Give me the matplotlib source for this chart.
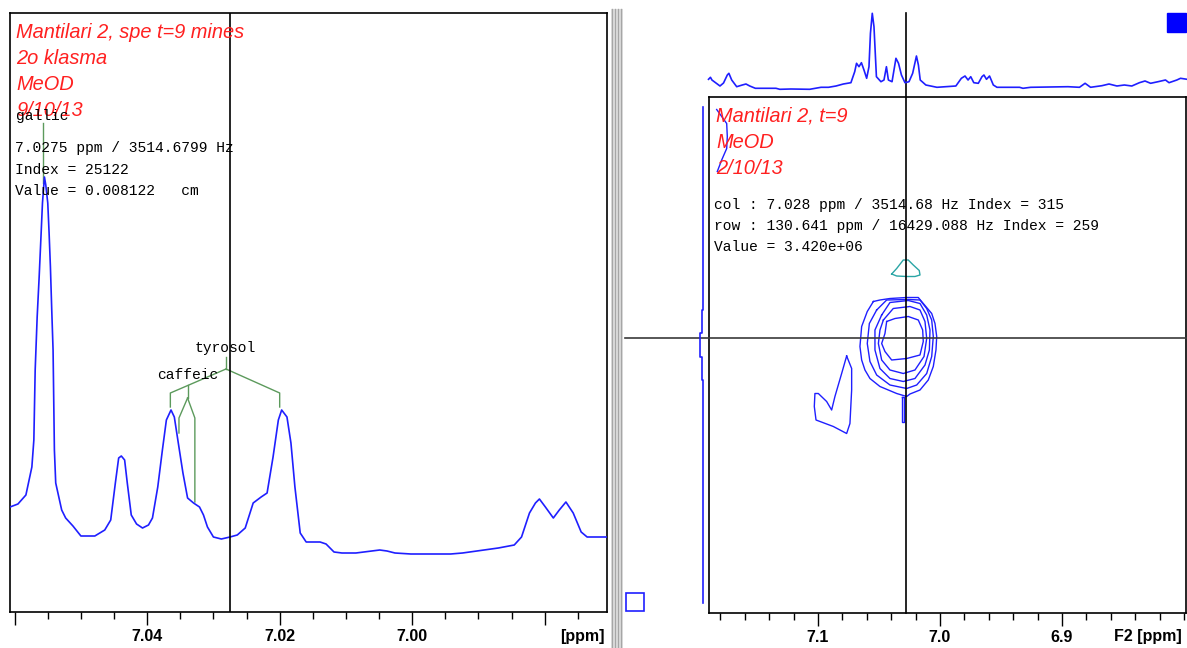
import matplotlib
matplotlib.use("Agg")
import matplotlib.pyplot as plt
from matplotlib.patches import Rectangle
from matplotlib.ticker import FixedLocator, MultipleLocator

W, H = 1187, 648

# ---------------- 1H spectrum (left panel) ----------------
h1_ppm = [7.0607, 7.0595, 7.0583, 7.0574, 7.0571, 7.0569, 7.0566, 7.0563, 7.0560,
          7.0558, 7.0555, 7.0553, 7.0550, 7.0548, 7.0546, 7.0544, 7.0542, 7.0540,
          7.0538, 7.0529, 7.0523, 7.0512, 7.0500, 7.0479, 7.0464, 7.0455, 7.0448,
          7.0443, 7.0439, 7.0434, 7.0430, 7.0424, 7.0416, 7.0407, 7.0398, 7.0392,
          7.0384, 7.0377, 7.0371, 7.0364, 7.0359, 7.0353, 7.0346, 7.0339, 7.0330,
          7.0321, 7.0315, 7.0309, 7.0300, 7.0288, 7.0275, 7.0264, 7.0252, 7.0240,
          7.0228, 7.0219, 7.0210, 7.0202, 7.0197, 7.0189, 7.0183, 7.0177, 7.0169,
          7.0160, 7.0139, 7.0130, 7.0118, 7.0106, 7.0085, 7.0049, 7.0038, 7.0026,
          7.0002, 6.9942, 6.9924, 6.9870, 6.9846, 6.9835, 6.9823, 6.9814, 6.9808,
          6.9799, 6.9787, 6.9778, 6.9768, 6.9757, 6.9745, 6.9736, 6.9706]
h1_int = [105, 108, 117, 145, 172, 242, 295, 335, 379,
          409, 435, 427, 409, 379, 345, 302, 262, 162,
          129, 102, 94, 86, 76, 76, 82, 92, 129,
          154, 156, 152, 129, 97, 88, 84, 87, 94,
          125, 162, 192, 202, 195, 169, 139, 114, 109,
          105, 97, 85, 75, 73, 75, 77, 84, 109,
          115, 119, 155, 192, 202, 195, 169, 125, 79,
          70, 70, 68, 60, 59, 59, 62, 61, 59,
          58, 58, 59, 64, 67, 75, 99, 109, 113,
          105, 94, 102, 110, 99, 80, 75, 75]

h1_ticks_major = [7.06, 7.04, 7.02, 7.00, 6.98]
h1_tick_labels = ["", "7.04", "7.02", "7.00", ""]

gallic_peak = 7.0557
caffeic_peaks = [7.0352, 7.0328]
tyrosol_peaks = [7.0365, 7.0200]

# ---------------- HSQC (right panel) ----------------
# F2 projection (top trace)
proj_f2_ppm = [7.1897, 7.1881, 7.1869, 7.1836, 7.1803, 7.1774, 7.1743, 7.1730, 7.1707,
               7.1666, 7.1620, 7.1590, 7.1559, 7.1513, 7.1344, 7.1313, 7.1221, 7.1068,
               7.0975, 7.0914, 7.0852, 7.0792, 7.0730, 7.0699, 7.0684, 7.0664, 7.0644,
               7.0623, 7.0601, 7.0582, 7.0570, 7.0555, 7.0541, 7.0521, 7.0484, 7.0459,
               7.0439, 7.0423, 7.0393, 7.0361, 7.0340, 7.0316, 7.0287, 7.0254, 7.0224,
               7.0193, 7.0177, 7.0162, 7.0116, 7.0025, 6.9870, 6.9825, 6.9795, 6.9770,
               6.9748, 6.9723, 6.9686, 6.9656, 6.9640, 6.9619, 6.9594, 6.9563, 6.9533,
               6.9348, 6.9320, 6.9257, 6.8951, 6.8857, 6.8811, 6.8766, 6.8673, 6.8615,
               6.8550, 6.8489, 6.8428, 6.8366, 6.8320, 6.8274, 6.8213, 6.8152, 6.8123,
               6.8059, 6.8029, 6.7975]
proj_f2_int = [15.7, 17.7, 15, 12, 9, 12, 20, 21.7, 15,
               8.3, 10, 11, 9, 6.7, 6.7, 5.7, 6, 5.7,
               7.7, 7.7, 9, 11, 12.3, 23.3, 31.7, 28.3, 32.3,
               25, 16.7, 28.3, 61.7, 81.7, 68.3, 18.3, 13.3, 15,
               28.3, 15, 13.3, 36.7, 31.7, 20, 12.3, 13.3, 21.7,
               39, 30, 15, 10, 7.7, 9, 16.7, 19, 15,
               18.3, 12.3, 11.7, 18.3, 20, 15.7, 19, 10, 7.7,
               7.7, 6.7, 7.7, 8.3, 7.7, 11.7, 7.7, 9.3, 11,
               9, 10, 9, 12.3, 14, 11.7, 13.3, 15, 12.3,
               15, 16.7, 15.7]

# F1 projection (left trace)
proj_f1_ppm = [126.02, 130.08, 130.08, 130.54, 130.54, 131.02, 131.02, 131.48, 131.48, 135.94]
proj_f1_int = [0, 0, 1, 1, 2.7, 2.7, 1, 1, 0, 0]

f2_ticks_major = [7.1, 7.0, 6.9]

cursor_f2 = 7.028
cursor_f1 = 130.641

# Contour levels of the cross peak (F2 ppm, F1 ppm)
level1_f2 = [7.0546, 7.0492, 7.0410, 7.0273, 7.0178, 7.0137, 7.0068, 7.0041, 7.0027, 7.0033,
             7.0055, 7.0096, 7.0164, 7.0246, 7.0273, 7.0355, 7.0492, 7.0574, 7.0615, 7.0642,
             7.0656, 7.0642, 7.0596, 7.0546]
level1_f1 = [129.91, 129.88, 129.85, 129.83, 129.83, 129.95, 130.15, 130.35, 130.61, 130.88,
             131.21, 131.48, 131.68, 131.76, 131.81, 131.75, 131.61, 131.45, 131.28, 131.08,
             130.81, 130.41, 130.11, 129.91]
level2_f2 = [7.0519, 7.0437, 7.0260, 7.0164, 7.0109, 7.0068, 7.0055, 7.0068, 7.0109, 7.0191,
             7.0273, 7.0410, 7.0519, 7.0574, 7.0596, 7.0579, 7.0519]
level2_f1 = [130.08, 129.88, 129.87, 129.88, 130.05, 130.28, 130.61, 131.01, 131.35, 131.58,
             131.65, 131.58, 131.38, 131.11, 130.75, 130.35, 130.08]
level3_f2 = [7.0478, 7.0410, 7.0260, 7.0164, 7.0109, 7.0082, 7.0087, 7.0123, 7.0205, 7.0301,
             7.0410, 7.0492, 7.0533, 7.0533, 7.0478]
level3_f1 = [130.18, 129.93, 129.89, 129.95, 130.18, 130.48, 130.88, 131.18, 131.45, 131.51,
             131.45, 131.25, 130.88, 130.48, 130.18]
level4_f2 = [7.0464, 7.0383, 7.0246, 7.0164, 7.0123, 7.0109, 7.0131, 7.0205, 7.0301, 7.0410,
             7.0478, 7.0505, 7.0492, 7.0464]
level4_f1 = [130.28, 130.05, 130.01, 130.08, 130.31, 130.65, 131.01, 131.28, 131.35, 131.28,
             131.08, 130.75, 130.48, 130.28]
level5_f2 = [7.0437, 7.0369, 7.0260, 7.0178, 7.0142, 7.0137, 7.0164, 7.0273, 7.0396, 7.0451,
             7.0478, 7.0451, 7.0437]
level5_f1 = [130.31, 130.25, 130.21, 130.28, 130.48, 130.71, 130.98, 131.05, 131.08, 130.91,
             130.75, 130.55, 130.31]
tail_f2 = [7.0314, 7.0314, 7.0295, 7.0295, 7.0314]
tail_f1 = [131.81, 132.31, 132.31, 131.81, 131.81]
side_f2 = [7.0765, 7.0724, 7.0724, 7.0738, 7.0765, 7.0874, 7.1016, 7.1030, 7.1025, 7.0997,
           7.0929, 7.0888, 7.0861, 7.0806, 7.0765]
side_f1 = [131.00, 131.25, 131.68, 132.35, 132.55, 132.41, 132.28, 132.01, 131.75, 131.75,
           131.91, 132.08, 131.81, 131.35, 131.00]
edge_f2 = [7.1830, 7.1789, 7.1748, 7.1743, 7.1748, 7.1789, 7.1825]
edge_f1 = [126.07, 126.21, 126.35, 126.61, 126.85, 127.08, 127.31]
neg_f2 = [7.0396, 7.0355, 7.0301, 7.0260, 7.0219, 7.0170, 7.0164, 7.0205, 7.0273, 7.0355, 7.0396]
neg_f1 = [129.36, 129.25, 129.08, 129.08, 129.18, 129.29, 129.38, 129.41, 129.41, 129.40, 129.36]

# ---------------- drawing ----------------
BLUE = "#1f1fff"
RED = "#ff2020"
GREEN = "#5c9a5c"
SANS = ["Liberation Sans", "DejaVu Sans"]
MONO = ["Liberation Mono", "DejaVu Sans Mono"]
RED_SIZE = 14.4

fig = plt.figure(figsize=(W / 100, H / 100), dpi=100)
fig.patch.set_facecolor("white")


def rect(x0, y0, x1, y1):
    return [x0 / W, 1 - y1 / H, (x1 - x0) / W, (y1 - y0) / H]


def fx(x):
    return x / W


def fy(y):
    return 1 - y / H


def style_axis(ax):
    for s in ax.spines.values():
        s.set_linewidth(1.2)
        s.set_color("black")
    ax.tick_params(axis="x", which="major", length=9, width=1, pad=3,
                   labelsize=11.5, direction="out")
    ax.tick_params(axis="x", which="minor", length=5, width=1, direction="out")
    ax.tick_params(axis="y", left=False, labelleft=False)
    for lbl in ax.get_xticklabels():
        lbl.set_fontfamily(SANS)
        lbl.set_fontweight("bold")


# Left panel: 1D proton spectrum
ax1 = fig.add_axes(rect(10, 13, 607, 612))
ax1.plot(h1_ppm, h1_int, color=BLUE, lw=1.2, zorder=3)
ax1.set_xlim(7.0607, 6.9706)
ax1.set_ylim(0, 599)
ax1.xaxis.set_major_locator(FixedLocator(h1_ticks_major))
ax1.set_xticklabels(h1_tick_labels)
ax1.xaxis.set_minor_locator(MultipleLocator(0.005))
style_axis(ax1)
ax1.axvline(7.0275, color="black", lw=1.2, zorder=4)

# peak assignment trees
ax1.plot([7.0281, 7.0281], [255, 243], color=GREEN, lw=1, zorder=2)
ax1.plot([7.0281, tyrosol_peaks[0], tyrosol_peaks[0]], [243, 219, 205], color=GREEN, lw=1, zorder=2)
ax1.plot([7.0281, tyrosol_peaks[1], tyrosol_peaks[1]], [243, 219, 205], color=GREEN, lw=1, zorder=2)
ax1.text(7.0282, 264, "tyrosol", family=MONO, fontsize=10.5, ha="center", va="center", zorder=6)
ax1.plot([7.0339, 7.0339], [227, 214], color=GREEN, lw=1, zorder=2)
ax1.plot([7.0339, caffeic_peaks[0], caffeic_peaks[0]], [214, 194, 179], color=GREEN, lw=1, zorder=2)
ax1.plot([7.0339, caffeic_peaks[1], caffeic_peaks[1]], [214, 194, 110], color=GREEN, lw=1, zorder=2)
ax1.text(7.0339, 237, "caffeic", family=MONO, fontsize=10.5, ha="center", va="center", zorder=6)
ax1.plot([gallic_peak, gallic_peak], [489, 429], color=GREEN, lw=1, zorder=2)
ax1.text(7.0558, 496, "gallic", family=MONO, fontsize=10.5, ha="center", va="center", zorder=7)

for y, s in zip([32, 58, 84, 110], ["Mantilari 2, spe t=9 mines", "2o klasma", "MeOD", "9/10/13"]):
    ax1.text(fx(16), fy(y), s, transform=fig.transFigure, family=SANS, style="italic",
             fontsize=RED_SIZE, color=RED, va="center", ha="left", zorder=5)
for y, s in zip([148, 170, 191], ["7.0275 ppm / 3514.6799 Hz", "Index = 25122",
                                  "Value = 0.008122   cm"]):
    ax1.text(fx(15), fy(y), s, transform=fig.transFigure, family=MONO, fontsize=10.5,
             color="black", va="center", ha="left", zorder=6)
fig.text(fx(605), fy(637), "[ppm]", family=SANS, fontweight="bold", fontsize=11.5,
         ha="right", va="center")

# Right panel: 2D HSQC contour region
ax2 = fig.add_axes(rect(709, 97, 1186, 613))
ax2.set_xlim(7.1893, 6.7984)
ax2.set_ylim(136.14, 125.82)
ax2.xaxis.set_major_locator(FixedLocator(f2_ticks_major))
ax2.set_xticklabels(["7.1", "7.0", "6.9"])
ax2.xaxis.set_minor_locator(MultipleLocator(0.02))
style_axis(ax2)
for cx, cy in [(level1_f2, level1_f1), (level2_f2, level2_f1), (level3_f2, level3_f1),
               (level4_f2, level4_f1), (level5_f2, level5_f1), (tail_f2, tail_f1),
               (side_f2, side_f1), (edge_f2, edge_f1)]:
    ax2.plot(cx, cy, color=BLUE, lw=1.0, zorder=3)
ax2.plot(neg_f2, neg_f1, color="#2aa5a5", lw=1.0, zorder=3)
ax2.axvline(cursor_f2, ymin=0, ymax=(613 - 13) / 516, color="black", lw=1.2,
            clip_on=False, zorder=4)
ax2.axhline(cursor_f1, xmin=(625 - 709) / 477, xmax=1, color="#3a3a3a", lw=1.2,
            clip_on=False, zorder=4)

for y, s in zip([116, 142, 168], ["Mantilari 2, t=9", "MeOD", "2/10/13"]):
    ax2.text(fx(716), fy(y), s, transform=fig.transFigure, family=SANS, style="italic",
             fontsize=RED_SIZE, color=RED, va="center", ha="left", zorder=5)
for y, s in zip([205, 226, 247], ["col : 7.028 ppm / 3514.68 Hz Index = 315",
                                  "row : 130.641 ppm / 16429.088 Hz Index = 259",
                                  "Value = 3.420e+06"]):
    ax2.text(fx(714), fy(y), s, transform=fig.transFigure, family=MONO, fontsize=10.5,
             color="black", va="center", ha="left", zorder=6)
fig.text(fx(1182), fy(637), "F2 [ppm]", family=SANS, fontweight="bold", fontsize=11.5,
         ha="right", va="center")

# F2 projection above the contour map
ax3 = fig.add_axes(rect(709, 13, 1186, 95))
ax3.patch.set_alpha(0)
ax3.plot(proj_f2_ppm, proj_f2_int, color=BLUE, lw=1.2, clip_on=False)
ax3.set_xlim(7.1893, 6.7984)
ax3.set_ylim(0, 82)
ax3.axis("off")

# F1 projection to the left of the contour map
ax4 = fig.add_axes(rect(690, 97, 709, 613))
ax4.patch.set_alpha(0)
ax4.plot(proj_f1_int, proj_f1_ppm, color=BLUE, lw=1.2)
ax4.set_xlim(12.7, -6.3)
ax4.set_ylim(136.14, 125.82)
ax4.axis("off")

# window decorations: splitter bar and view markers
fig.patches.append(Rectangle((fx(611), fy(648)), 12 / W, 639 / H, transform=fig.transFigure,
                             facecolor="#e4e4e4", edgecolor="none"))
for xs in [612, 615, 618, 621]:
    fig.add_artist(plt.Line2D([fx(xs), fx(xs)], [fy(9), fy(648)], color="#a6a6a6", lw=1))
fig.patches.append(Rectangle((fx(1167), fy(32)), 19 / W, 19 / H, transform=fig.transFigure,
                             facecolor="#0000ff", edgecolor="#0000ff"))
fig.patches.append(Rectangle((fx(626), fy(611)), 18 / W, 18 / H, transform=fig.transFigure,
                             facecolor="none", edgecolor="#1f1fff", lw=1.2))

fig.savefig("out.png", dpi=100)
